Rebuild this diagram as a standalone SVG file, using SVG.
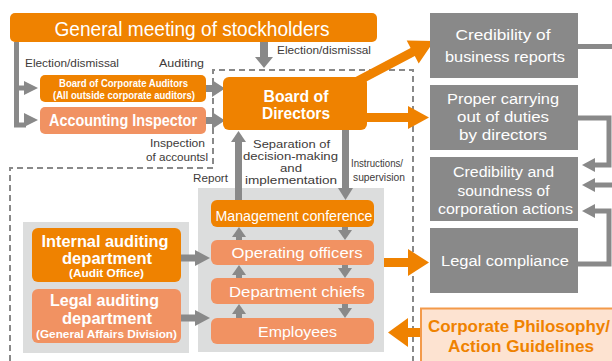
<svg xmlns="http://www.w3.org/2000/svg" width="612" height="361" viewBox="0 0 612 361">
<defs>
<style>
.o{fill:#EF8200}
.s{fill:#F19262}
.g{fill:#898989}
.p{fill:#DCDDDD}
.t{font-family:"Liberation Sans",Arial,sans-serif;fill:#fff;text-anchor:middle}
.b{font-weight:bold}
.l{font-family:"Liberation Sans",Arial,sans-serif;fill:#3E3A39;font-size:11px}
.ln{stroke:#898989;stroke-width:5;fill:none}
.dash{stroke:#898989;stroke-width:2;stroke-dasharray:6 4;fill:none}
</style>
</defs>
<rect width="612" height="361" fill="#fff"/>

<!-- panels -->
<rect class="p" x="23" y="222" width="166" height="131"/>
<rect class="p" x="198" y="188" width="186" height="164"/>

<g id="connectors">
<path class="dash" d="M10,361 V168 H213 V70 H413 V361"/>
<!-- left bar election/dismissal -->
<path class="ln" d="M16.5,42 V125 H26 M16.5,88 H26"/>
<polygon class="g" points="24,81 38,88 24,95"/>
<polygon class="g" points="24,113 38,120 24,127"/>
<!-- general meeting down to board -->
<rect class="g" x="260" y="42" width="8" height="16"/>
<polygon class="g" points="255,57 273,57 264,68"/>
<!-- auditors to board -->
<rect class="g" x="206" y="85" width="8" height="7"/>
<polygon class="g" points="212,80 225,88.5 212,97"/>
<rect class="g" x="206" y="117" width="8" height="7"/>
<polygon class="g" points="212,112 225,120.5 212,129"/>
<!-- report up -->
<rect class="g" x="235" y="141" width="7" height="59"/>
<polygon class="g" points="231,142 246,142 238.5,131"/>
<!-- instructions down -->
<rect class="g" x="342" y="130" width="7" height="59"/>
<polygon class="g" points="338,188 353,188 345.5,200"/>
<!-- management internal arrows -->
<rect class="g" x="236" y="236" width="6" height="5"/>
<polygon class="g" points="232,237 246,237 239,227"/>
<rect class="g" x="236" y="274" width="6" height="5"/>
<polygon class="g" points="232,275 246,275 239,265"/>
<rect class="g" x="236" y="313" width="6" height="6"/>
<polygon class="g" points="232,314 246,314 239,304"/>
<rect class="g" x="342" y="227" width="6" height="4"/>
<polygon class="g" points="338,230 352,230 345,240"/>
<rect class="g" x="342" y="265" width="6" height="4"/>
<polygon class="g" points="338,268 352,268 345,278"/>
<rect class="g" x="342" y="304" width="6" height="5"/>
<polygon class="g" points="338,308 352,308 345,318"/>
<!-- left panel to right panel -->
<rect class="g" x="181" y="254.5" width="16" height="7"/>
<polygon class="g" points="195,250 210,258 195,266"/>
<rect class="g" x="181" y="314.5" width="16" height="7"/>
<polygon class="g" points="195,310 210,318 195,326"/>
<!-- orange arrows -->
<polygon class="o" points="349.9,80 410.6,48.1 406.7,40.6 434,41 418.7,63.6 414.8,56.1 354.1,88"/>
<rect class="o" x="367" y="113" width="43" height="9"/>
<polygon class="o" points="408,106 429,117.5 408,129"/>
<rect class="o" x="384" y="258" width="26" height="9"/>
<polygon class="o" points="408,249 429,262.5 408,276"/>
<rect class="o" x="405" y="328" width="16" height="9"/>
<polygon class="o" points="408,318 388,332.5 408,347"/>
<!-- right gray connectors -->
<path class="ln" d="M578,46.5 H612"/>
<path class="ln" d="M578,118 H609 V165 H594"/>
<polygon class="g" points="595,158 582,165 595,172"/>
<path class="ln" d="M612,185 H594"/>
<polygon class="g" points="595,178 582,185 595,192"/>
<path class="ln" d="M578,264 H609 V211 H594"/>
<polygon class="g" points="595,204 582,211 595,218"/>
</g>

<!-- labels -->
<g id="labels">
<text class="l" x="25" y="67" textLength="94" lengthAdjust="spacingAndGlyphs">Election/dismissal</text>
<text class="l" x="159" y="67" textLength="45" lengthAdjust="spacingAndGlyphs">Auditing</text>
<text class="l" x="277" y="54" textLength="94" lengthAdjust="spacingAndGlyphs">Election/dismissal</text>
<text class="l" x="205" y="147" text-anchor="end" textLength="55" lengthAdjust="spacingAndGlyphs">Inspection</text>
<text class="l" x="208" y="161" text-anchor="end" textLength="62" lengthAdjust="spacingAndGlyphs">of accountsl</text>
<text class="l" x="193" y="182" textLength="35" lengthAdjust="spacingAndGlyphs">Report</text>
<g font-family="Liberation Sans,Arial,sans-serif" font-size="11.5" fill="#3E3A39" text-anchor="middle">
<text x="291.5" y="148" textLength="77" lengthAdjust="spacingAndGlyphs">Separation of</text>
<text x="290.5" y="160" textLength="95" lengthAdjust="spacingAndGlyphs">decision-making</text>
<text x="291" y="172" textLength="22" lengthAdjust="spacingAndGlyphs">and</text>
<text x="291" y="184" textLength="92" lengthAdjust="spacingAndGlyphs">implementation</text>
</g>
<text class="l" x="351" y="167" textLength="52" lengthAdjust="spacingAndGlyphs">Instructions/</text>
<text class="l" x="353" y="181" textLength="52" lengthAdjust="spacingAndGlyphs">supervision</text>
</g>

<g id="general-meeting">
<rect class="o" x="10" y="13" width="367" height="29" rx="5"/>
<text class="t" x="192" y="36" font-size="20" textLength="275" lengthAdjust="spacingAndGlyphs">General meeting of stockholders</text>
</g>

<g id="board-auditors">
<rect class="o" x="40" y="75" width="166" height="27" rx="5"/>
<text class="t b" x="123.5" y="87" font-size="10.5" textLength="129" lengthAdjust="spacingAndGlyphs">Board of Corporate Auditors</text>
<text class="t b" x="124" y="99" font-size="10.5" textLength="142" lengthAdjust="spacingAndGlyphs">(All outside corporate auditors)</text>
</g>

<g id="accounting-inspector">
<rect class="s" x="40" y="107" width="166" height="27" rx="5"/>
<text class="t b" x="123" y="126" font-size="16" textLength="148" lengthAdjust="spacingAndGlyphs">Accounting Inspector</text>
</g>

<g id="board-directors">
<rect class="o" x="223" y="77" width="144" height="53" rx="6"/>
<text class="t b" x="296" y="102" font-size="16" textLength="65" lengthAdjust="spacingAndGlyphs">Board of</text>
<text class="t b" x="296" y="119" font-size="16" textLength="68" lengthAdjust="spacingAndGlyphs">Directors</text>
</g>

<g id="management-conference">
<rect class="o" x="211" y="200" width="163" height="27" rx="6"/>
<text class="t" x="294" y="221" font-size="15" textLength="157" lengthAdjust="spacingAndGlyphs">Management conference</text>
</g>
<g id="operating-officers">
<rect class="s" x="211" y="240" width="163" height="25" rx="6"/>
<text class="t" x="297" y="258" font-size="15.5" textLength="131" lengthAdjust="spacingAndGlyphs">Operating officers</text>
</g>
<g id="department-chiefs">
<rect class="s" x="211" y="278" width="163" height="26" rx="6"/>
<text class="t" x="297" y="297" font-size="15.5" textLength="136" lengthAdjust="spacingAndGlyphs">Department chiefs</text>
</g>
<g id="employees">
<rect class="s" x="211" y="318" width="163" height="26" rx="6"/>
<text class="t" x="297.5" y="337" font-size="15.5" textLength="79" lengthAdjust="spacingAndGlyphs">Employees</text>
</g>

<g id="internal-auditing">
<rect class="o" x="32" y="228" width="149" height="54" rx="6"/>
<text class="t b" x="105" y="247" font-size="16" textLength="127" lengthAdjust="spacingAndGlyphs">Internal auditing</text>
<text class="t b" x="107" y="264" font-size="16" textLength="90" lengthAdjust="spacingAndGlyphs">department</text>
<text class="t b" x="106.5" y="277" font-size="10.5" textLength="75" lengthAdjust="spacingAndGlyphs">(Audit Office)</text>
</g>
<g id="legal-auditing">
<rect class="s" x="32" y="289" width="149" height="54" rx="6"/>
<text class="t b" x="104.5" y="306" font-size="16" textLength="109" lengthAdjust="spacingAndGlyphs">Legal auditing</text>
<text class="t b" x="107" y="324" font-size="16" textLength="90" lengthAdjust="spacingAndGlyphs">department</text>
<text class="t b" x="106.5" y="338" font-size="10.5" textLength="141" lengthAdjust="spacingAndGlyphs">(General Affairs Division)</text>
</g>

<g id="credibility-reports">
<rect class="g" x="430" y="13" width="148" height="65"/>
<text class="t" x="503" y="40" font-size="15.5" textLength="95" lengthAdjust="spacingAndGlyphs">Credibility of</text>
<text class="t" x="505" y="62" font-size="15.5" textLength="120" lengthAdjust="spacingAndGlyphs">business reports</text>
</g>
<g id="proper-duties">
<rect class="g" x="430" y="85" width="148" height="65"/>
<text class="t" x="503" y="104" font-size="15.5" textLength="112" lengthAdjust="spacingAndGlyphs">Proper carrying</text>
<text class="t" x="503" y="122" font-size="15.5" textLength="92" lengthAdjust="spacingAndGlyphs">out of duties</text>
<text class="t" x="503" y="140" font-size="15.5" textLength="88" lengthAdjust="spacingAndGlyphs">by directors</text>
</g>
<g id="credibility-soundness">
<rect class="g" x="430" y="157" width="148" height="64"/>
<text class="t" x="503.5" y="177" font-size="15.5" textLength="101" lengthAdjust="spacingAndGlyphs">Credibility and</text>
<text class="t" x="503.5" y="196" font-size="15.5" textLength="92" lengthAdjust="spacingAndGlyphs">soundness of</text>
<text class="t" x="505.5" y="214" font-size="15.5" textLength="135" lengthAdjust="spacingAndGlyphs">corporation actions</text>
</g>
<g id="legal-compliance">
<rect class="g" x="430" y="228" width="148" height="65"/>
<text class="t" x="505" y="266" font-size="15.5" textLength="128" lengthAdjust="spacingAndGlyphs">Legal compliance</text>
</g>

<g id="corporate-philosophy">
<rect x="421" y="308.5" width="200" height="60" fill="#FDE3D1" stroke="#F39A4A" stroke-width="2"/>
<text x="428" y="332" font-family="Liberation Sans,Arial,sans-serif" font-size="17" font-weight="bold" fill="#EF8200" textLength="182" lengthAdjust="spacingAndGlyphs">Corporate Philosophy/</text>
<text x="521" y="352" font-family="Liberation Sans,Arial,sans-serif" font-size="17" font-weight="bold" fill="#EF8200" text-anchor="middle" textLength="146" lengthAdjust="spacingAndGlyphs">Action Guidelines</text>
</g>
</svg>
